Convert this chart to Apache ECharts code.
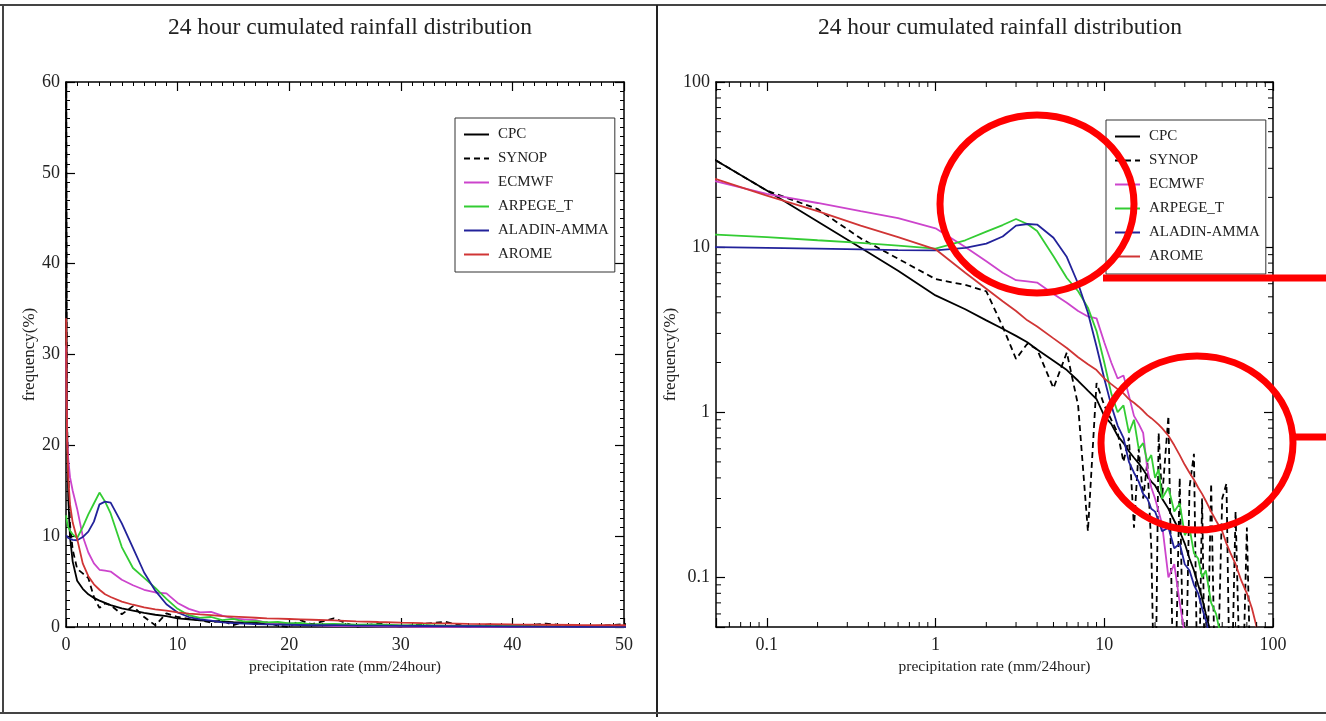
<!DOCTYPE html>
<html>
<head>
<meta charset="utf-8">
<script src="https://cdn.jsdelivr.net/npm/echarts@6/dist/echarts.min.js"></script>
<style>
  html, body { margin: 0; padding: 0; background: #fff; }
  #chart { width: 1326px; height: 721px; }
</style>
</head>
<body>
<div id="chart"></div>
<script>
// precipitation rate bins (mm/24hour), shared by both panels
const rainX = [0.02, 0.05, 0.1, 0.2, 0.36, 0.6, 1, 1.5, 2, 2.5, 3, 3.5, 4, 5, 6, 7, 8, 9, 10, 11,
  12, 13, 14, 15, 16, 17, 18, 19, 20, 21, 22, 24, 26, 28, 30, 32, 34, 36, 38, 40,
  43, 46, 50, 53, 56, 60, 65, 70, 75, 80];

// frequency (%) per bin; 0.01 stands for "no occurrence" (below the log axis)
const cpc = [60, 33.5, 22, 14.3, 9.9, 7.2, 5.1, 4.2, 3.6, 3.2, 2.9, 2.65, 2.4, 2.05, 1.8, 1.55, 1.35, 1.2, 0.95, 0.85,
  0.72, 0.65, 0.58, 0.53, 0.49, 0.45, 0.41, 0.38, 0.36, 0.33, 0.3, 0.26, 0.22, 0.19, 0.16, 0.13, 0.11, 0.09, 0.075, 0.06,
  0.045, 0.035, 0.025, 0.02, 0.015, 0.012, 0.01, 0.01, 0.01, 0.01];
const synop = [60, 33.5, 22, 17, 11.3, 8.5, 6.4, 5.9, 5.4, 3.3, 2.1, 2.6, 2.4, 1.4, 2.3, 1.1, 0.19, 1.5, 1.1, 0.9,
  0.75, 0.5, 0.7, 0.2, 0.6, 0.3, 0.5, 0.15, 0.01, 0.75, 0.3, 0.95, 0.01, 0.4, 0.01, 0.35, 0.56, 0.01, 0.3, 0.01,
  0.37, 0.01, 0.3, 0.37, 0.01, 0.25, 0.01, 0.2, 0.01, 0.01];
const ecmwf = [31, 25, 21, 18.5, 16.5, 15, 13, 10, 8.2, 7, 6.3, 6.2, 6.1, 5.2, 4.6, 4.1, 3.8, 3.7, 2.65, 2.0,
  1.6, 1.67, 1.26, 0.95, 0.85, 0.75, 0.45, 0.35, 0.3, 0.25, 0.21, 0.1, 0.12, 0.07, 0.045, 0.03, 0.02, 0.02, 0.01, 0.01,
  0.01, 0.01, 0.01, 0.01, 0.01, 0.01, 0.01, 0.01, 0.01, 0.01];
const arpege = [12.3, 11.9, 11.5, 11, 10.6, 10.2, 9.8, 11, 12.4, 13.6, 14.8, 13.8, 12.5, 8.8, 6.5, 5.4, 4.3, 3.1, 2.0, 1.3,
  1.0, 1.1, 0.75, 0.9, 0.6, 0.65, 0.5, 0.55, 0.4, 0.45, 0.3, 0.35, 0.25, 0.28, 0.18, 0.2, 0.14, 0.13, 0.1, 0.11,
  0.07, 0.06, 0.04, 0.03, 0.02, 0.01, 0.01, 0.01, 0.01, 0.01];
const aladin = [10.1, 10, 9.9, 9.8, 9.7, 9.6, 9.55, 9.9, 10.5, 11.6, 13.5, 13.8, 13.7, 11.4, 8.7, 6.0, 4.0, 2.5, 1.6, 1.1,
  0.83, 0.7, 0.5, 0.43, 0.38, 0.32, 0.3, 0.26, 0.25, 0.22, 0.19, 0.2, 0.15, 0.16, 0.12, 0.11, 0.09, 0.08, 0.065, 0.055,
  0.04, 0.02, 0.01, 0.01, 0.01, 0.01, 0.01, 0.01, 0.01, 0.01];
const arome = [34, 25.8, 20.5, 16.5, 13.5, 11.5, 9.7, 7, 5.6, 4.7, 4.1, 3.6, 3.3, 2.8, 2.45, 2.15, 1.95, 1.8, 1.6, 1.48,
  1.38, 1.3, 1.2, 1.14, 1.08, 1.02, 0.96, 0.92, 0.88, 0.84, 0.8, 0.72, 0.63, 0.55, 0.48, 0.43, 0.39, 0.35, 0.32, 0.29,
  0.25, 0.22, 0.19, 0.16, 0.14, 0.12, 0.095, 0.08, 0.065, 0.05];

const seriesNames = ["CPC", "SYNOP", "ECMWF", "ARPEGE_T", "ALADIN-AMMA", "AROME"];
const seriesValues = [cpc, synop, ecmwf, arpege, aladin, arome];
const seriesColors = ["#000000", "#000000", "#cc44cc", "#33cc33", "#22229a", "#d03535"];
const seriesDash = ["solid", [6, 4], "solid", "solid", "solid", "solid"];

const logTickLabels = ["0.1", "1", "10", "100"];
const logMinorTicks = [0.06, 0.07, 0.08, 0.09, 0.2, 0.3, 0.4, 0.5, 0.6, 0.7, 0.8, 0.9,
  2, 3, 4, 5, 6, 7, 8, 9, 20, 30, 40, 50, 60, 70, 80, 90];

const titleText = "24 hour cumulated rainfall distribution";
const xName = "precipitation rate (mm/24hour)";
const yName = "frequency(%)";
const serif = "Liberation Serif";

const chart = echarts.init(document.getElementById("chart"));

const labelStyle = { fontFamily: serif, fontSize: 18, color: "#222" };
const xNameStyle = { fontFamily: serif, fontSize: 15.5, color: "#222" };
const yNameStyle = { fontFamily: serif, fontSize: 17, color: "#222" };
const lineAxis = { onZero: false, lineStyle: { color: "#000", width: 1.5 } };
const tickIn = { inside: true, length: 9, lineStyle: { color: "#000", width: 1.2 } };

function linAxis(gridIndex, position, min, max, withLabels, isY) {
  return {
    type: "value", gridIndex, position, min, max, interval: 10,
    axisLine: lineAxis, axisTick: tickIn,
    minorTick: { show: true, splitNumber: 10, length: 4, lineStyle: { color: "#000", width: 1 } },
    splitLine: { show: false }, minorSplitLine: { show: false },
    axisLabel: Object.assign({ show: withLabels, margin: isY ? 6 : 9 }, labelStyle),
    name: withLabels ? (isY ? yName : xName) : "",
    nameLocation: "middle", nameGap: isY ? 21 : 27, nameTextStyle: isY ? yNameStyle : xNameStyle,
  };
}

function logAxis(gridIndex, position, withLabels, isY) {
  return {
    type: "log", logBase: 10, gridIndex, position, min: 0.05, max: 100,
    axisLine: lineAxis, axisTick: tickIn,
    splitLine: { show: false },
    axisLabel: Object.assign({
      show: withLabels, margin: isY ? 6 : 9,
      formatter: (v) => {
        const l = Math.log10(v);
        if (Math.abs(l - Math.round(l)) > 1e-6) return "";
        const s = String(Math.pow(10, Math.round(l)));
        return logTickLabels.indexOf(s) >= 0 ? s : "";
      },
    }, labelStyle),
    name: withLabels ? (isY ? yName : xName) : "",
    nameLocation: "middle", nameGap: isY ? 21 : 27, nameTextStyle: isY ? yNameStyle : xNameStyle,
  };
}

const series = [];
[0, 1].forEach((panel) => {
  seriesNames.forEach((name, k) => {
    series.push({
      type: "line", name,
      xAxisIndex: panel * 2, yAxisIndex: panel * 2,
      data: rainX.map((x, i) => [x, seriesValues[k][i]]),
      symbol: "none", showSymbol: false, clip: true, silent: true,
      lineStyle: { color: seriesColors[k], width: 1.8, type: seriesDash[k] },
      itemStyle: { color: seriesColors[k] },
      emphasis: { disabled: true },
    });
  });
});

// log minor ticks (2..9 per decade) on all four sides of the right panel
series.push({
  type: "custom", xAxisIndex: 2, yAxisIndex: 2, silent: true, z: 5,
  data: logMinorTicks.map((v) => [v, 1, 0]).concat(logMinorTicks.map((v) => [1, v, 1])),
  renderItem: (params, api) => {
    const cs = params.coordSys;
    const p = api.coord([api.value(0), api.value(1)]);
    const st = { stroke: "#000", lineWidth: 1 };
    if (api.value(2) === 0) {
      return { type: "group", children: [
        { type: "line", shape: { x1: p[0], y1: cs.y + cs.height, x2: p[0], y2: cs.y + cs.height - 5 }, style: st },
        { type: "line", shape: { x1: p[0], y1: cs.y, x2: p[0], y2: cs.y + 5 }, style: st },
      ] };
    }
    return { type: "group", children: [
      { type: "line", shape: { x1: cs.x, y1: p[1], x2: cs.x + 5, y2: p[1] }, style: st },
      { type: "line", shape: { x1: cs.x + cs.width, y1: p[1], x2: cs.x + cs.width - 5, y2: p[1] }, style: st },
    ] };
  },
});

const legendBase = {
  orient: "vertical", data: seriesNames,
  itemWidth: 25, itemHeight: 14, itemGap: 9,
  padding: [9, 6, 10, 8],
  borderColor: "#333", borderWidth: 1, backgroundColor: "#fff",
  selectedMode: false,
  itemStyle: { opacity: 0 },
  textStyle: { fontFamily: serif, fontSize: 15, color: "#222", lineHeight: 14, padding: [0, 0, 0, 4] },
};

const red = "#ff0000";

chart.setOption({
  animation: false,
  backgroundColor: "#fff",
  title: [
    { text: titleText, left: 345, top: 11, textAlign: "center",
      textStyle: { fontFamily: serif, fontSize: 23.5, fontWeight: "normal", color: "#222" } },
    { text: titleText, left: 995, top: 11, textAlign: "center",
      textStyle: { fontFamily: serif, fontSize: 23.5, fontWeight: "normal", color: "#222" } },
  ],
  legend: [
    Object.assign({ left: 455, top: 118 }, legendBase),
    Object.assign({ left: 1106, top: 120 }, legendBase),
  ],
  grid: [
    { left: 66, top: 82, width: 558, height: 545 },
    { left: 716, top: 82, width: 557, height: 545 },
  ],
  xAxis: [
    linAxis(0, "bottom", 0, 50, true, false),
    linAxis(0, "top", 0, 50, false, false),
    logAxis(1, "bottom", true, false),
    logAxis(1, "top", false, false),
  ],
  yAxis: [
    linAxis(0, "left", 0, 60, true, true),
    linAxis(0, "right", 0, 60, false, true),
    logAxis(1, "left", true, true),
    logAxis(1, "right", false, true),
  ],
  series,
  graphic: [
    // page frame
    { type: "line", shape: { x1: 0, y1: 5, x2: 1326, y2: 5 }, style: { stroke: "#444", lineWidth: 2 } },
    { type: "line", shape: { x1: 3, y1: 5, x2: 3, y2: 713 }, style: { stroke: "#444", lineWidth: 2 } },
    { type: "line", shape: { x1: 657, y1: 5, x2: 657, y2: 717 }, style: { stroke: "#222", lineWidth: 2 } },
    { type: "line", shape: { x1: 0, y1: 713, x2: 1326, y2: 713 }, style: { stroke: "#444", lineWidth: 2 } },
    // red highlight annotations
    { type: "ellipse", z: 100, shape: { cx: 1037, cy: 204, rx: 97, ry: 89 },
      style: { fill: "none", stroke: red, lineWidth: 7 } },
    { type: "ellipse", z: 100, shape: { cx: 1197, cy: 443, rx: 96, ry: 87 },
      style: { fill: "none", stroke: red, lineWidth: 7 } },
    { type: "line", z: 100, shape: { x1: 1103, y1: 278, x2: 1326, y2: 278 }, style: { stroke: red, lineWidth: 7 } },
    { type: "line", z: 100, shape: { x1: 1292, y1: 437, x2: 1326, y2: 437 }, style: { stroke: red, lineWidth: 7 } },
  ],
});
</script>
</body>
</html>
